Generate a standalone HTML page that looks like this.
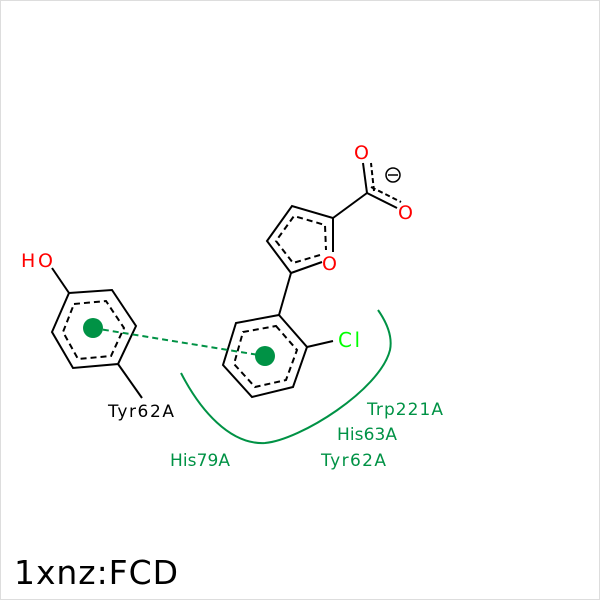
<html><body style="margin:0;background:#fff"><svg width="600" height="600" xmlns="http://www.w3.org/2000/svg" style="font-family:'DejaVu Sans','Liberation Sans',sans-serif">
<rect x="0.5" y="0.5" width="599" height="599" fill="#fff" stroke="#ddd"/>
<g stroke="#000" stroke-width="2" fill="none">
<polygon points="69,293 112,290 136,326 118,364 73,368 52,332"/>
<polygon points="74,304 106,301 124,328 111,356 78,359 63,332" stroke-dasharray="6,4"/>
<line x1="69" y1="293" x2="52" y2="268"/><line x1="118" y1="364" x2="142" y2="398"/>
<polygon points="279,315 307,347 293,387 252,397 223,365 236,323"/>
<polygon points="276,326 297,350 286,380 255,387 234,364 243,332" stroke-dasharray="6,4"/>
<line x1="307" y1="347" x2="333" y2="341"/><line x1="279" y1="315" x2="291" y2="273"/>
<polyline points="322,262 291,273 267,241 292,206 333,218 333,252"/>
<polyline points="320,255 293,263 276,241 294,216 325,225 326,250" stroke-dasharray="6,4"/>
<line x1="333" y1="218" x2="367" y2="193"/>
<line x1="367" y1="193" x2="363" y2="163"/><line x1="374" y1="191" x2="371" y2="163" stroke-dasharray="5,3"/>
<line x1="367" y1="193" x2="397" y2="208"/><line x1="371" y1="187" x2="401" y2="202" stroke-dasharray="5,3"/>
<circle cx="393" cy="175" r="7" stroke-width="1.5"/><line x1="388" y1="175" x2="398" y2="175" stroke-width="1.5"/>
</g>
<line x1="93" y1="328" x2="265" y2="356" stroke="#009245" stroke-width="2" stroke-dasharray="6,4"/>
<circle cx="93" cy="328" r="10" fill="#009245"/><circle cx="265" cy="356" r="10" fill="#009245"/>
<path d="M181,373 C200,410 230,445 265,443 C300,440 380,390 390,350 C393,335 385,320 378,310" fill="none" stroke="#009245" stroke-width="2"/>
<g font-size="19" fill="#f00"><text x="21" y="267" textLength="32">HO</text><text x="322" y="270">O</text><text x="354" y="159">O</text><text x="398" y="219">O</text></g>
<text x="338" y="347" font-size="20" fill="#0f0" textLength="22">Cl</text>
<text x="108" y="417" font-size="17" textLength="66">Tyr62A</text>
<g font-size="17" fill="#009245"><text x="367" y="415" textLength="76">Trp221A</text><text x="337" y="440" textLength="60">His63A</text><text x="170" y="466" textLength="60">His79A</text><text x="321" y="466" textLength="65">Tyr62A</text></g>
<text x="14" y="584" font-size="33" textLength="164">1xnz:FCD</text>
</svg></body></html>
